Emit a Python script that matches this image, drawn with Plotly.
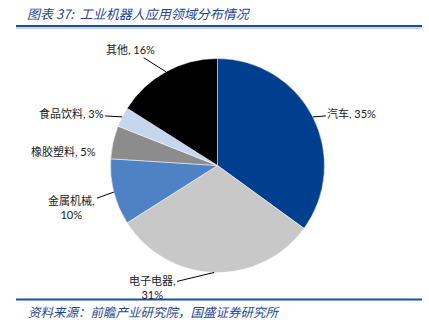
import math
import plotly.graph_objects as go

categories = ["汽车", "电子电器", "金属机械", "橡胶塑料", "食品饮料", "其他"]
values = [35, 31, 10, 5, 3, 16]
colors = ["#003F8F", "#C8C8C8", "#4F81C5", "#8C8C8C", "#C6D6EC", "#000000"]
label_texts = ["汽车, 35%", "电子电器,<br>31%", "金属机械,<br>10%", "橡胶塑料, 5%", "食品饮料, 3%", "其他, 16%"]
# label offsets (pixels) from slice-edge midpoints, and whether a leader line is drawn
label_offsets = [(39, -3), (-62, 15), (-42, 15), (-50, 9), (-51, -3), (-35, -22)]
show_leader = [True, True, True, False, True, True]

W, H = 429, 323
cx, cy, r = 217.5, 165.5, 107  # pixel layout of the pie

fig = go.Figure()
fig.add_trace(go.Pie(
    labels=categories, values=values, sort=False, direction="clockwise", rotation=0,
    marker=dict(colors=colors, line=dict(color="white", width=0.5)),
    textinfo="none", hoverinfo="label+percent", showlegend=False,
    domain=dict(x=[(cx - r) / W, (cx + r) / W], y=[(H - cy - r) / H, (H - cy + r) / H]),
))

font_lbl = dict(family="Lato, 'Noto Sans CJK SC', sans-serif", size=11, color="#1a1a1a")
total = sum(values)
cum = 0
annotations = []
for cat, v, txt, (ax, ay), sl in zip(categories, values, label_texts, label_offsets, show_leader):
    mid = (cum + v / 2) / total * 2 * math.pi
    cum += v
    px = cx + r * math.sin(mid)
    py = cy - r * math.cos(mid)
    annotations.append(dict(
        x=px / W, y=1 - py / H, xref="paper", yref="paper",
        text=txt, showarrow=True, ax=ax, ay=ay, arrowhead=0, arrowwidth=1,
        arrowcolor="#000000" if sl else "rgba(0,0,0,0)", font=font_lbl, align="center",
    ))

title_color = "#1F4690"
annotations.append(dict(
    x=25 / W, y=1 - 13 / H, xref="paper", yref="paper", xanchor="left", yanchor="middle",
    text="<i>图表 37:  工业机器人应用领域分布情况</i>", showarrow=False,
    font=dict(family="'Noto Sans CJK SC', sans-serif", size=13, color=title_color),
))
annotations.append(dict(
    x=26 / W, y=1 - 311 / H, xref="paper", yref="paper", xanchor="left", yanchor="middle",
    text="<i>资料来源：前瞻产业研究院，国盛证券研究所</i>", showarrow=False,
    font=dict(family="'Noto Sans CJK SC', sans-serif", size=12.5, color=title_color),
))

shapes = [
    dict(type="line", xref="paper", yref="paper", x0=16 / W, x1=422 / W, y0=1 - 26 / H, y1=1 - 26 / H,
         line=dict(color="#1F4E9A", width=2)),
    dict(type="line", xref="paper", yref="paper", x0=16 / W, x1=422 / W, y0=1 - 28 / H, y1=1 - 28 / H,
         line=dict(color="#8FAEDC", width=1)),
    dict(type="line", xref="paper", yref="paper", x0=16 / W, x1=422 / W, y0=1 - 299.5 / H, y1=1 - 299.5 / H,
         line=dict(color="#1F4E9A", width=2)),
]

fig.update_layout(
    width=W, height=H, margin=dict(l=0, r=0, t=0, b=0),
    paper_bgcolor="white", plot_bgcolor="white",
    annotations=annotations, shapes=shapes,
)
fig.write_html("out.html")
